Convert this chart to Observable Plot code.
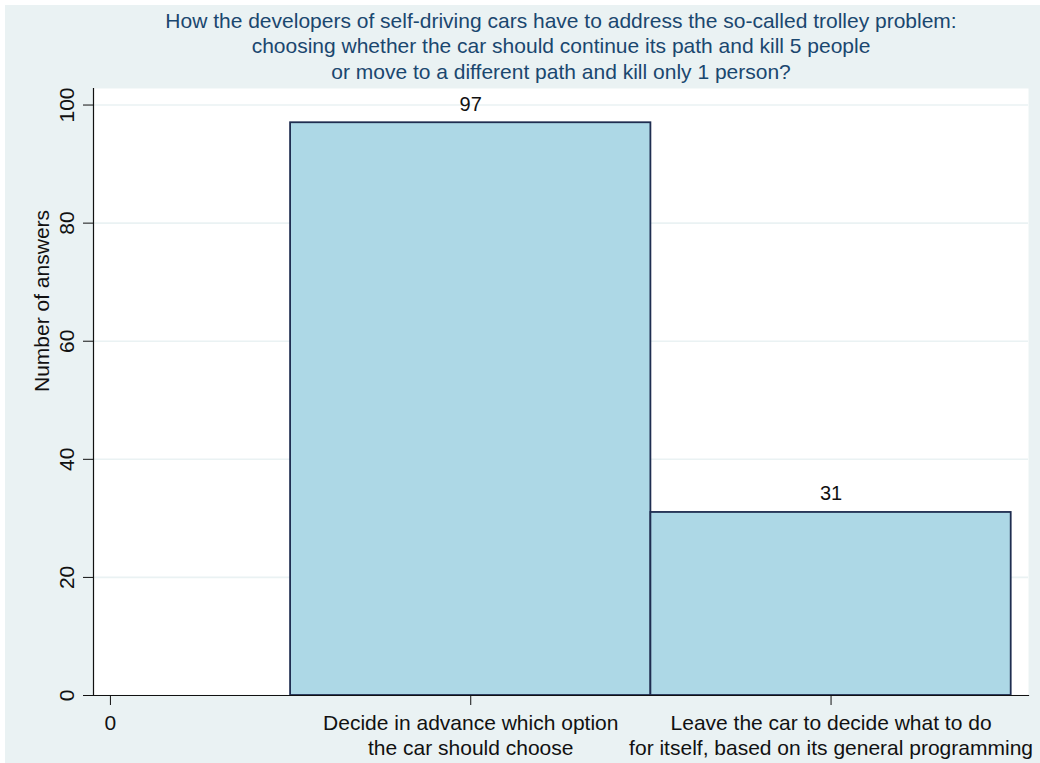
<!DOCTYPE html>
<html>
<head>
<meta charset="utf-8">
<script src="https://cdn.jsdelivr.net/npm/d3@7"></script>
<script src="https://cdn.jsdelivr.net/npm/@observablehq/plot@0.6"></script>
<style>
  html, body { margin: 0; padding: 0; background: #ffffff; }
  #wrap { position: absolute; left: 5px; top: 5px; width: 1035px; height: 758px; overflow: hidden; background: #eaf2f3; }
</style>
</head>
<body>
<div id="wrap"></div>
<script>
// ---- data ----
const titleLines = [
  "How the developers of self-driving cars have to address the so-called trolley problem:",
  "choosing whether the car should continue its path and kill 5 people",
  "or move to a different path and kill only 1 person?"
];
const yTitle = "Number of answers";
const categories = [
  "Decide in advance which option\nthe car should choose",
  "Leave the car to decide what to do\nfor itself, based on its general programming"
];
const categoryPos = [1, 2];
const counts = [97, 31];
const xTicks = [0, 1, 2];
const xTickLabels = ["0", categories[0], categories[1]];
const yTicks = [0, 20, 40, 60, 80, 100];

const data = categories.map((c, i) => ({cat: c, pos: categoryPos[i], n: counts[i]}));

const font = "'Liberation Sans', Arial, Helvetica, sans-serif";
const navy = "#1a476f";

const chart = Plot.plot({
  width: 1035,
  height: 758,
  marginLeft: 88,
  marginRight: 12,
  marginTop: 83,
  marginBottom: 68,
  style: {background: "#eaf2f3", fontFamily: font, color: "#111111", overflow: "hidden"},
  x: {domain: [-0.047, 2.548]},
  y: {domain: [0, 102.8]},
  marks: [
    Plot.frame({fill: "white", stroke: "none"}),
    Plot.ruleY(yTicks, {stroke: "#eaf2f3", strokeWidth: 1.6}),
    Plot.rectY(data, {
      x1: d => d.pos - 0.5,
      x2: d => d.pos + 0.5,
      y: "n",
      fill: "#add8e6",
      stroke: "#1f2d50",
      strokeWidth: 1.8
    }),
    Plot.text(data, {
      x: "pos", y: "n", text: d => String(d.n),
      lineAnchor: "bottom", dy: -12, fontSize: 20, fill: "#111111"
    }),
    Plot.frame({anchor: "left", stroke: "#111111", strokeWidth: 1.2}),
    Plot.frame({anchor: "bottom", stroke: "#111111", strokeWidth: 1.2}),
    Plot.axisY({
      ticks: yTicks, tickSize: 10, tickPadding: 10, tickRotate: -90,
      fontSize: 21, tickFormat: d => String(d), label: null
    }),
    Plot.axisX({
      ticks: xTicks, tickSize: 10, tickPadding: 6, label: null,
      tickFormat: (d, i) => xTickLabels[i], fontSize: 21, lineHeight: 1.21
    }),
    Plot.text([yTitle], {
      frameAnchor: "left", rotate: -90, dx: -45, lineAnchor: "bottom",
      fontSize: 21, fill: "#111111"
    }),
    Plot.text([titleLines.join("\n")], {
      frameAnchor: "top", lineAnchor: "bottom", dy: -10,
      lineHeight: 1.21, fontSize: 21, fill: navy
    })
  ]
});
document.getElementById("wrap").appendChild(chart);
</script>
</body>
</html>
